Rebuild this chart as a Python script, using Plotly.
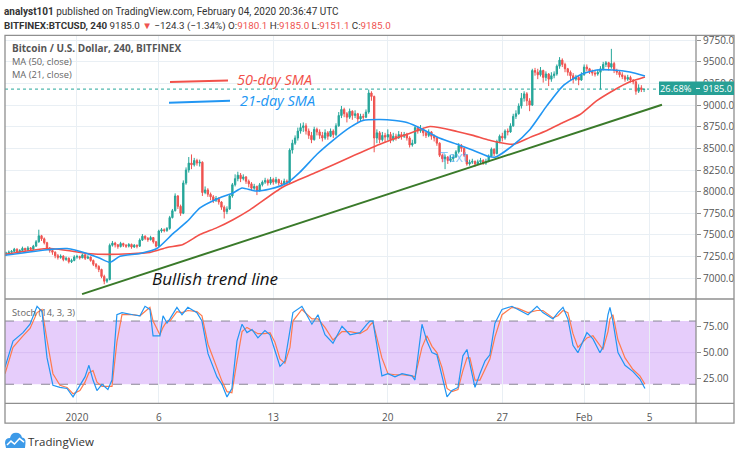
import plotly.graph_objects as go
import pandas as pd

W, H = 740, 452

# ---------------- data ----------------
candle_start = "2019-12-27 16:00"   # 4h candles
first_open = 7280

close = [
    7290, 7300,
    7310, 7335, 7300, 7320, 7345, 7325,
    7350, 7335, 7370, 7420, 7490, 7455,
    7410, 7345, 7320, 7300, 7260, 7240,
    7255, 7215, 7230, 7190, 7205, 7245,
    7250, 7235, 7270, 7230, 7245, 7205,
    7160, 7135, 7100, 7020, 6965, 6985,
    7380, 7405, 7385, 7365, 7400, 7380,
    7370, 7390, 7360, 7380, 7370, 7440,
    7485, 7460, 7445, 7470, 7420, 7370,
    7545, 7560, 7550, 7575, 7700, 7780,
    7950, 7830, 7750, 8100, 8250, 8330,
    8310, 8360, 8330, 8340, 7990, 8020,
    7970, 7940, 7900, 7920, 7880, 7820,
    7770, 7800, 7950, 8080, 8150, 8190,
    8150, 8170, 8120, 8090, 8040, 8060,
    8010, 8080, 8110, 8130, 8100, 8140,
    8110, 8140, 8100, 8090, 8120, 8110,
    8480, 8560, 8620, 8700, 8740, 8760,
    8700, 8650, 8600, 8720, 8690, 8650,
    8620, 8680, 8640, 8700, 8660, 8760,
    8880, 8950, 8900, 8860, 8930, 8880,
    8900, 8840, 8870, 8860, 8920, 9140,
    9100, 8620, 8680, 8600, 8650, 8630,
    8660, 8600, 8640, 8620, 8660, 8640,
    8660, 8620, 8540, 8560, 8740, 8700,
    8720, 8680, 8650, 8690, 8640, 8620,
    8560, 8420, 8380, 8400, 8360, 8380,
    8400, 8460, 8530, 8500, 8420, 8320,
    8340, 8350, 8320, 8345, 8360, 8330,
    8350, 8410, 8490, 8440, 8580, 8640,
    8620, 8700, 8690, 8760, 8870, 8900,
    8990, 9080, 9130, 9050, 9000, 9400,
    9380, 9350, 9400, 9320, 9360, 9300,
    9340, 9360, 9450, 9520, 9470, 9420,
    9380, 9340, 9300, 9320, 9290, 9350,
    9440, 9420, 9390, 9370, 9360, 9380,
    9420, 9470, 9490, 9440, 9480, 9400,
    9380, 9350, 9330, 9300, 9320, 9290,
    9270, 9160, 9200, 9180, 9185,
]
high = [
    7305, 7320,
    7325, 7350, 7345, 7335, 7365, 7350,
    7370, 7360, 7385, 7440, 7560, 7500,
    7470, 7420, 7360, 7335, 7310, 7280,
    7275, 7265, 7250, 7240, 7225, 7265,
    7270, 7260, 7285, 7280, 7265, 7250,
    7215, 7175, 7150, 7110, 7040, 7000,
    7400, 7430, 7420, 7395, 7420, 7410,
    7395, 7405, 7400, 7395, 7390, 7460,
    7510, 7495, 7475, 7490, 7475, 7430,
    7560, 7580, 7575, 7590, 7720, 7800,
    7980, 7960, 7850, 8130, 8280, 8400,
    8430, 8390, 8380, 8370, 8350, 8060,
    8040, 7990, 7960, 7950, 7935, 7890,
    7840, 7830, 7970, 8100, 8200, 8230,
    8215, 8200, 8180, 8140, 8110, 8090,
    8070, 8100, 8130, 8160, 8150, 8170,
    8160, 8170, 8150, 8130, 8150, 8140,
    8500, 8600, 8650, 8740, 8790, 8800,
    8790, 8730, 8690, 8750, 8740, 8720,
    8690, 8720, 8700, 8730, 8720, 8790,
    8920, 8990, 8970, 8920, 8960, 8940,
    8940, 8910, 8900, 8900, 8950, 9180,
    9160, 9110, 8720, 8700, 8690, 8680,
    8720, 8690, 8680, 8670, 8700, 8690,
    8690, 8680, 8640, 8600, 8770, 8760,
    8770, 8740, 8700, 8720, 8700, 8660,
    8630, 8570, 8440, 8430, 8410, 8420,
    8430, 8480, 8560, 8550, 8510, 8430,
    8370, 8380, 8360, 8370, 8390, 8375,
    8380, 8430, 8510, 8500, 8600, 8660,
    8680, 8720, 8730, 8790, 8900, 8940,
    9020, 9140, 9160, 9150, 9080, 9420,
    9430, 9420, 9440, 9410, 9390, 9370,
    9380, 9390, 9470, 9555, 9540, 9490,
    9430, 9400, 9370, 9350, 9340, 9380,
    9470, 9470, 9430, 9410, 9400, 9410,
    9450, 9500, 9510, 9500, 9650, 9500,
    9420, 9400, 9380, 9350, 9350, 9340,
    9300, 9280, 9240, 9230, 9185,
]
low = [
    7260, 7280,
    7285, 7300, 7290, 7295, 7310, 7310,
    7315, 7320, 7330, 7365, 7410, 7430,
    7390, 7325, 7295, 7270, 7230, 7215,
    7225, 7195, 7200, 7170, 7175, 7195,
    7225, 7215, 7230, 7210, 7220, 7190,
    7140, 7110, 7070, 7000, 6930, 6945,
    6975, 7365, 7355, 7340, 7355, 7360,
    7350, 7355, 7340, 7350, 7345, 7360,
    7430, 7440, 7420, 7435, 7400, 7355,
    7360, 7525, 7530, 7535, 7560, 7690,
    7770, 7800, 7720, 7740, 8080, 8220,
    8260, 8290, 8300, 8290, 7950, 7970,
    7940, 7900, 7870, 7880, 7850, 7790,
    7690, 7740, 7790, 7930, 8060, 8120,
    8110, 8130, 8090, 8050, 8010, 8020,
    7960, 8000, 8060, 8090, 8070, 8080,
    8080, 8090, 8070, 8060, 8080, 8085,
    8100, 8440, 8540, 8590, 8670, 8690,
    8660, 8610, 8560, 8590, 8650, 8610,
    8580, 8600, 8600, 8630, 8620, 8640,
    8750, 8850, 8860, 8800, 8840, 8830,
    8850, 8800, 8810, 8830, 8850, 8900,
    9050, 8455, 8560, 8560, 8580, 8570,
    8590, 8560, 8580, 8590, 8610, 8600,
    8620, 8590, 8510, 8520, 8550, 8670,
    8680, 8640, 8620, 8630, 8600, 8580,
    8530, 8400, 8340, 8260, 8320, 8340,
    8350, 8390, 8440, 8460, 8400, 8300,
    8300, 8320, 8290, 8310, 8330, 8310,
    8310, 8340, 8400, 8410, 8430, 8560,
    8580, 8600, 8650, 8680, 8750, 8840,
    8890, 8960, 9040, 8990, 8930, 8990,
    9340, 9300, 9330, 9260, 9280, 9220,
    9270, 9310, 9340, 9420, 9440, 9380,
    9340, 9290, 9250, 9280, 9230, 9280,
    9340, 9390, 9360, 9340, 9330, 9340,
    9180, 9400, 9440, 9400, 9420, 9370,
    9350, 9320, 9300, 9270, 9280, 9260,
    9240, 9120, 9140, 9151, 9151,
]

# moving averages (days after 2020-01-01, value)
ma21_days = [-4.40, -1.65, -0.61, 0.61, 1.41, 2.02, 2.63, 3.85, 4.89, 5.87, 6.72, 7.52, 8.56,
             9.54, 10.09, 10.88, 11.80, 12.84, 13.63, 14.67, 15.65, 16.69, 17.48, 18.52, 19.44,
             20.17, 21.15, 22.19, 23.23, 24.21, 25.12, 25.55, 26.65, 27.69, 28.73, 29.71, 30.75,
             31.78, 32.76, 33.80, 34.72]
ma21_vals = [7264, 7332, 7343, 7286, 7229, 7183, 7252, 7286, 7343, 7515, 7653, 7813, 7916,
             7985, 8042, 8008, 8031, 8100, 8226, 8432, 8593, 8742, 8822, 8833, 8822,
             8799, 8719, 8616, 8547, 8478, 8409, 8398, 8535, 8719, 8994, 9223, 9349,
             9406, 9406, 9383, 9337]
ma50_days = [-4.40, -1.65, 0.61, 2.02, 4.46, 5.50, 6.48, 7.52, 8.56, 9.54, 10.57, 12.59, 14.67,
             16.69, 18.52, 20.17, 21.58, 23.23, 24.21, 25.24, 26.65, 27.69, 28.73, 29.71, 30.75,
             31.78, 32.76, 33.80, 34.72]
ma50_vals = [7275, 7343, 7286, 7275, 7298, 7355, 7390, 7504, 7584, 7676, 7790, 8054, 8226,
             8398, 8547, 8662, 8753, 8696, 8650, 8593, 8547, 8627, 8707, 8799, 8891,
             9051, 9166, 9269, 9326]

# stochastic (14,3,3)
stoch_days = [-4.40, -3.91, -3.30, -2.87, -2.44, -2.14, -1.83, -1.47, -1.04, -0.61,
              -0.24, 0.18, 0.49, 0.73, 0.98, 1.22, 1.53, 1.89, 2.14, 2.44,
              2.75, 3.42, 3.85, 4.16, 4.46, 4.65, 5.07, 5.26, 5.50, 5.68,
              6.11, 6.42, 6.78, 7.33, 7.64, 8.01, 8.56, 8.86, 9.17, 9.47,
              9.78, 10.09, 10.39, 10.70, 11.06, 11.49, 11.80, 12.10, 12.41, 12.71,
              13.02, 13.20, 13.75, 14.36, 14.73, 15.16, 15.65, 16.20, 16.69, 17.30,
              17.73, 17.91, 18.09, 18.64, 19.01, 19.44, 19.87, 20.48, 20.66, 21.09,
              21.39, 21.70, 22.00, 22.31, 22.62, 22.92, 23.29, 23.59, 23.84, 24.02,
              24.33, 24.63, 24.94, 25.24, 25.55, 25.98, 26.59, 26.96, 27.57, 28.12,
              28.48, 29.10, 29.40, 29.71, 30.01, 30.32, 30.62, 31.17, 31.54, 31.97,
              32.15, 32.46, 32.58, 32.76, 33.07, 33.50, 33.99, 34.41, 34.72]
stoch_k = [36, 61, 69, 77, 94, 89, 45, 19, 17, 16,
           8, 19, 27, 38, 24, 14, 20, 15, 24, 86,
           88, 86, 85, 94, 91, 66, 66, 85, 78, 82,
           93, 86, 93, 88, 80, 49, 27, 20, 8, 16,
           61, 77, 69, 72, 64, 71, 67, 52, 37, 42,
           69, 88, 94, 77, 86, 67, 59, 75, 67, 69,
           77, 80, 80, 28, 30, 27, 30, 28, 24, 77,
           61, 50, 48, 27, 8, 14, 17, 47, 53, 39,
           17, 30, 42, 48, 78, 91, 94, 91, 86, 94,
           88, 82, 88, 93, 82, 57, 50, 69, 63, 50,
           55, 86, 93, 80, 50, 38, 32, 25, 16]
stoch_d = [30, 55, 66, 73, 88, 91, 62, 30, 19, 17,
           11, 14, 22, 31, 33, 22, 18, 18, 18, 60,
           86, 86, 85, 89, 93, 80, 67, 74, 80, 80,
           89, 88, 90, 89, 85, 58, 35, 23, 13, 12,
           42, 70, 74, 71, 68, 68, 69, 60, 44, 40,
           55, 80, 91, 82, 82, 74, 62, 70, 70, 68,
           72, 76, 79, 45, 30, 29, 29, 28, 27, 55,
           66, 56, 50, 36, 16, 13, 15, 33, 45, 45,
           24, 24, 35, 44, 65, 86, 93, 92, 88, 90,
           90, 83, 85, 90, 88, 68, 55, 64, 66, 56,
           53, 70, 82, 86, 62, 45, 34, 28, 20]

trend_days = [0.31, 35.76]
trend_prices = [6816, 9005]

last_price = 9185.0
price_ticks = [7000, 7250, 7500, 7750, 8000, 8250, 8500, 8750, 9000, 9250, 9500, 9750]
stoch_ticks = [25, 50, 75]
time_tick_days = [0, 5, 12, 19, 26, 31, 35]
time_tick_text = ["2020", "6", "13", "20", "27", "Feb", "5"]

# ---------------- helpers ----------------
assert len(close) == len(high) == len(low)
base = pd.Timestamp("2020-01-01")


def day(d):
    return base + pd.to_timedelta(d, unit="D")


def days(lst):
    return [day(v) for v in lst]


def PX(x):
    return x / W


def PY(y):
    return 1 - y / H


times = pd.date_range(candle_start, periods=len(close), freq="4h")
opens = [first_open] + close[:-1]
highs = [max(h, o, c) for h, o, c in zip(high, opens, close)]
lows = [min(l, o, c) for l, o, c in zip(low, opens, close)]

GREEN = "#26a69a"
RED = "#ef5350"
BLUE = "#2196f3"
MARED = "#f2514a"
FONT = "Open Sans"
HFONT = "Roboto"
GRID = "#e9eff4"
FRAME = "#8f8f8f"

fig = go.Figure()

fig.add_trace(go.Candlestick(
    x=times, open=opens, high=highs, low=lows, close=close,
    increasing=dict(line=dict(color=GREEN, width=1), fillcolor=GREEN),
    decreasing=dict(line=dict(color=RED, width=1), fillcolor=RED),
    whiskerwidth=0, showlegend=False, hoverinfo="skip", xaxis="x", yaxis="y"))

fig.add_trace(go.Scatter(x=days(ma50_days), y=ma50_vals, mode="lines",
                         line=dict(color=MARED, width=1.6, shape="spline", smoothing=0.6),
                         showlegend=False, hoverinfo="skip", xaxis="x", yaxis="y"))
fig.add_trace(go.Scatter(x=days(ma21_days), y=ma21_vals, mode="lines",
                         line=dict(color=BLUE, width=1.6, shape="spline", smoothing=0.6),
                         showlegend=False, hoverinfo="skip", xaxis="x", yaxis="y"))
fig.add_trace(go.Scatter(x=days(trend_days), y=trend_prices, mode="lines",
                         line=dict(color="#3a7a2a", width=2),
                         showlegend=False, hoverinfo="skip", xaxis="x", yaxis="y"))

fig.add_trace(go.Scatter(x=days(stoch_days), y=stoch_d, mode="lines",
                         line=dict(color="#ff7a4d", width=1.2),
                         showlegend=False, hoverinfo="skip", xaxis="x", yaxis="y2"))
fig.add_trace(go.Scatter(x=days(stoch_days), y=stoch_k, mode="lines",
                         line=dict(color=BLUE, width=1.2),
                         showlegend=False, hoverinfo="skip", xaxis="x", yaxis="y2"))

shapes = []
# stoch band
shapes.append(dict(type="rect", xref="paper", yref="y2", x0=PX(5), x1=PX(696), y0=20, y1=80,
                   fillcolor="#e6cdfb", line=dict(width=0), layer="below"))
shapes.append(dict(type="line", xref="paper", yref="y2", x0=PX(5), x1=PX(696), y0=50, y1=50,
                   line=dict(color="#d8bdf3", width=1), layer="below"))
for lv in (20, 80):
    shapes.append(dict(type="line", xref="paper", yref="y2", x0=PX(5), x1=PX(696), y0=lv, y1=lv,
                       line=dict(color="#8a8796", width=1, dash="dash"), layer="below"))
# last price dotted line
shapes.append(dict(type="line", xref="paper", yref="y", x0=PX(5), x1=PX(696),
                   y0=last_price, y1=last_price, line=dict(color=GREEN, width=1, dash="dot"),
                   layer="below"))
# drawing: SMA legend lines
shapes.append(dict(type="line", xref="paper", yref="paper", x0=PX(170), y0=PY(79.5),
                   x1=PX(228), y1=PY(78), line=dict(color=MARED, width=2)))
shapes.append(dict(type="line", xref="paper", yref="paper", x0=PX(169), y0=PY(100.5),
                   x1=PX(230), y1=PY(98.5), line=dict(color=BLUE, width=2)))
# frame
shapes.append(dict(type="rect", xref="paper", yref="paper", x0=PX(5), x1=PX(734), y0=PY(423), y1=PY(32.5),
                   line=dict(color=FRAME, width=1.3), fillcolor="rgba(0,0,0,0)"))
shapes.append(dict(type="line", xref="paper", yref="paper", x0=PX(696), x1=PX(696), y0=PY(423), y1=PY(32.5),
                   line=dict(color=FRAME, width=1.3)))
shapes.append(dict(type="line", xref="paper", yref="paper", x0=PX(5), x1=PX(734), y0=PY(298), y1=PY(298),
                   line=dict(color=FRAME, width=1.3)))
shapes.append(dict(type="line", xref="paper", yref="paper", x0=PX(5), x1=PX(734), y0=PY(403), y1=PY(403),
                   line=dict(color=FRAME, width=1.3)))
# last price box
shapes.append(dict(type="rect", xref="paper", yref="paper", x0=PX(659), x1=PX(734), y0=PY(92.5), y1=PY(79),
                   fillcolor="#27a095", line=dict(width=0), layer="above"))
shapes.append(dict(type="line", xref="paper", yref="paper", x0=PX(696), x1=PX(700), y0=PY(86), y1=PY(86),
                   line=dict(color="white", width=1), layer="above"))


# TradingView logo (cloud)
def ppath(cmds):
    out = []
    for c in cmds:
        if isinstance(c, str):
            out.append(c)
        else:
            out.append(f"{PX(c[0]):.5f},{PY(c[1]):.5f}")
    return " ".join(out)


cloud = ppath(["M", (6, 448), "L", (5, 443), "Q", (5, 438), (10, 438), "Q", (11, 432.5), (16, 432.5),
               "Q", (21, 432.5), (22, 437.5), "Q", (26, 438), (25.5, 443), "L", (25, 448), "Z"])
shapes.append(dict(type="path", xref="paper", yref="paper", path=cloud,
                   fillcolor="#3d9ae8", line=dict(width=0)))
zig = ppath(["M", (7, 445), "L", (11, 441), "L", (14.5, 444), "L", (19.5, 438.5), "L", (24, 442)])
shapes.append(dict(type="path", xref="paper", yref="paper", path=zig,
                   line=dict(color="white", width=1.5)))

annotations = []


def text(x, y, s, size=10, color="#333", xanchor="left", italic=False, family=FONT):
    annotations.append(dict(xref="paper", yref="paper", x=PX(x), y=PY(y), text=s, showarrow=False,
                            xanchor=xanchor, yanchor="middle", borderpad=0,
                            font=dict(size=size, color=color, family=family, style="italic" if italic else "normal")))


text(3, 9, "<b>analyst101</b> published on TradingView.com, February 04, 2020 20:36:47 UTC", 10, "#333",
     family=HFONT)
text(3, 23, "<b>BITFINEX:BTCUSD, 240</b> 9185.0 <span style='color:#ef5350'>▼</span> −124.3 (−1.34%) "
     "O:<span style='color:#ef5350'>9180.1</span> H:<span style='color:#ef5350'>9185.0</span> "
     "L:<span style='color:#ef5350'>9151.1</span> C:<span style='color:#ef5350'>9185.0</span>", 9.8, "#333",
     family=HFONT)
text(11, 45.5, "<b>Bitcoin / U.S. Dollar, 240, BITFINEX</b>", 10, "#555")
text(11, 59, "MA (50, close)", 9.3, "#666")
text(11, 72, "MA (21, close)", 9.3, "#666")
text(11, 312, "Stoch (14, 3, 3)", 9.3, "#666")
text(236, 77, "50-day SMA", 14.5, MARED, italic=True)
text(239, 98.5, "21-day SMA", 14.5, BLUE, italic=True)
text(151, 277, "Bullish trend line", 17, "#111", italic=True)
text(439, 155, "Text", 14, "rgba(33,150,243,0.55)")
text(693, 86, "26.68%", 9.3, "white", xanchor="right")
text(702, 86, "9185.0", 9.3, "white", xanchor="left")
text(27, 441, "TradingView", 11.5, "#333")

fig.update_layout(
    width=W, height=H, margin=dict(l=0, r=0, t=0, b=0),
    paper_bgcolor="white", plot_bgcolor="white",
    showlegend=False, shapes=shapes, annotations=annotations,
    font=dict(family=FONT, size=10, color="#555"),
    xaxis=dict(type="date", domain=[PX(5), PX(696)], range=[day(-4.40), day(37.84)], anchor="y2",
               tickvals=days(time_tick_days), ticktext=time_tick_text, showgrid=True, gridcolor=GRID,
               gridwidth=1, ticks="outside", ticklen=5, tickcolor="rgba(0,0,0,0)",
               showline=False, zeroline=False, rangeslider=dict(visible=False),
               tickfont=dict(size=10, color="#555", family=FONT), fixedrange=True),
    yaxis=dict(domain=[PY(298), PY(32.5)], range=[6759, 9807], side="right", anchor="x",
               tickvals=price_ticks, ticktext=[f"{v:.1f}" for v in price_ticks],
               showgrid=True, gridcolor=GRID, ticks="outside", ticklen=4, tickcolor="#8f8f8f",
               showline=False, zeroline=False, tickfont=dict(size=10, color="#555", family=FONT)),
    yaxis2=dict(domain=[PY(403), PY(298)], range=[1.9, 100.9], side="right", anchor="x",
                tickvals=stoch_ticks, ticktext=[f"{v:.2f}" for v in stoch_ticks],
                showgrid=False, ticks="outside", ticklen=4, tickcolor="#8f8f8f",
                showline=False, zeroline=False, tickfont=dict(size=10, color="#555", family=FONT)),
)

fig.write_html("out.html", config={"displayModeBar": False},
               post_script="document.body.style.margin='0';document.body.style.overflow='hidden';")
